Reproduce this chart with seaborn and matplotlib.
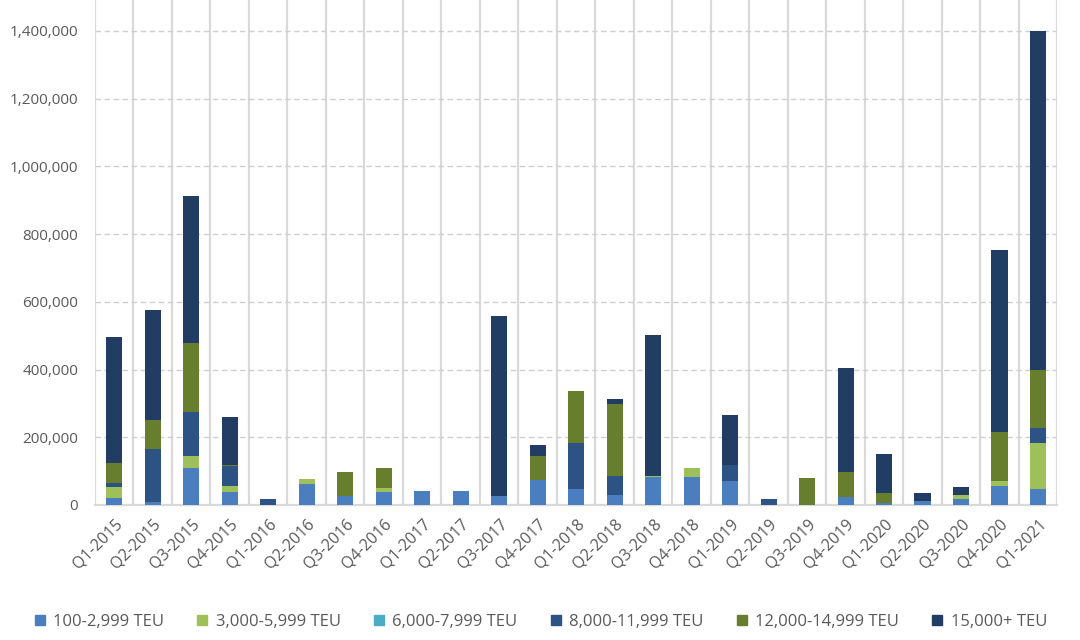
import numpy as np
import pandas as pd
import matplotlib
matplotlib.use("Agg")
import matplotlib.pyplot as plt
from matplotlib.lines import Line2D
from matplotlib.ticker import FuncFormatter, FixedLocator
import seaborn as sns

quarters = ["Q1-2015", "Q2-2015", "Q3-2015", "Q4-2015", "Q1-2016", "Q2-2016", "Q3-2016",
            "Q4-2016", "Q1-2017", "Q2-2017", "Q3-2017", "Q4-2017", "Q1-2018", "Q2-2018",
            "Q3-2018", "Q4-2018", "Q1-2019", "Q2-2019", "Q3-2019", "Q4-2019", "Q1-2020",
            "Q2-2020", "Q3-2020", "Q4-2020", "Q1-2021"]

series_names = ["100-2,999 TEU", "3,000-5,999 TEU", "6,000-7,999 TEU",
                "8,000-11,999 TEU", "12,000-14,999 TEU", "15,000+ TEU"]

teu_100 = [22000, 10000, 108000, 38000, 0, 62000, 27000, 39000, 42000, 42000, 27000, 74000, 47000,
           30000, 82000, 84000, 72000, 0, 0, 25000, 6000, 12000, 17000, 56000, 48000]
teu_3000 = [31000, 0, 38000, 18000, 0, 15000, 0, 10000, 0, 0, 0, 0, 0,
            0, 4000, 25000, 0, 0, 0, 0, 0, 0, 12000, 15000, 134000]
teu_6000 = [0, 0, 0, 0, 0, 0, 0, 0, 0, 0, 0, 0, 0,
            0, 0, 0, 0, 0, 0, 0, 0, 0, 0, 0, 0]
teu_8000 = [12000, 155000, 129000, 60000, 17000, 0, 0, 0, 0, 0, 0, 0, 135000,
            55000, 0, 0, 46000, 19000, 0, 0, 0, 0, 0, 0, 46000]
teu_12000 = [59000, 85000, 204000, 3000, 0, 0, 70000, 59000, 0, 0, 0, 70000, 155000,
             214000, 0, 0, 0, 0, 80000, 73000, 30000, 0, 0, 144000, 170000]
teu_15000 = [373000, 327000, 434000, 142000, 0, 0, 0, 0, 0, 0, 532000, 32000, 0,
             14000, 417000, 0, 148000, 0, 0, 308000, 116000, 24000, 24000, 537000, 1002000]

y_ticks = [0, 200000, 400000, 600000, 800000, 1000000, 1200000, 1400000]

colors = ["#4A7EBF", "#9DC05A", "#4BACC6", "#2D5284", "#677E2E", "#213D63"]
text_color = "#595959"

sns.set_theme(style="white")
plt.rcParams["font.family"] = ["Open Sans", "DejaVu Sans"]

fig = plt.figure(figsize=(10.8, 6.4), dpi=100)
ax = fig.add_axes([95 / 1080, 1 - 505 / 640, (1057.3 - 95) / 1080, 505 / 640])

all_series = [teu_100, teu_3000, teu_6000, teu_8000, teu_12000, teu_15000]
bottom = np.zeros(len(quarters))
for name, vals, col in zip(series_names, all_series, colors):
    df = pd.DataFrame({"quarter": quarters, "value": vals})
    sns.barplot(data=df, x="quarter", y="value", order=quarters, color=col,
                saturation=1, bottom=bottom.copy(), width=0.42, linewidth=0,
                errorbar=None, ax=ax, zorder=3)
    bottom = bottom + np.array(vals, dtype=float)

ax.set_xlim(-0.5, len(quarters) - 0.5)
ax.set_ylim(0, 1400000 * 505 / 474)
ax.set_yticks(y_ticks)
ax.yaxis.set_major_formatter(FuncFormatter(lambda v, p: f"{int(v):,}"))
ax.set_xlabel("")
ax.set_ylabel("")

# grid lines
ax.xaxis.set_minor_locator(FixedLocator(np.arange(-0.5, len(quarters), 1.0)))
ax.grid(which="minor", axis="x", color="#D9D9D9", linewidth=1.6, linestyle="-", zorder=0)
ax.grid(which="major", axis="x", visible=False)
ax.grid(which="major", axis="y", color="#CFCFCF", linewidth=1.0, linestyle=(0, (4, 2.5)), zorder=0)
ax.tick_params(axis="x", which="both", length=0)
ax.tick_params(axis="y", length=0, pad=12, labelsize=11, labelcolor=text_color)

for s in ["top", "right", "left"]:
    ax.spines[s].set_visible(False)
ax.spines["bottom"].set_color("#D9D9D9")
ax.spines["bottom"].set_linewidth(1.6)

ax.set_xticks(range(len(quarters)))
ax.set_xticklabels(quarters, rotation=45, ha="right", rotation_mode="anchor",
                   fontsize=11.5, color=text_color)
ax.tick_params(axis="x", pad=8)

handles = [Line2D([0], [0], marker="s", linestyle="", markersize=7,
                  markerfacecolor=c, markeredgecolor=c) for c in colors]
fig.legend(handles, series_names, loc="center", bbox_to_anchor=(0.5, 1 - 622 / 640),
           ncol=6, frameon=False, fontsize=12, labelcolor=text_color,
           handletextpad=0.4, columnspacing=1.9, handlelength=0.8)

fig.savefig("out.png", dpi=100)
